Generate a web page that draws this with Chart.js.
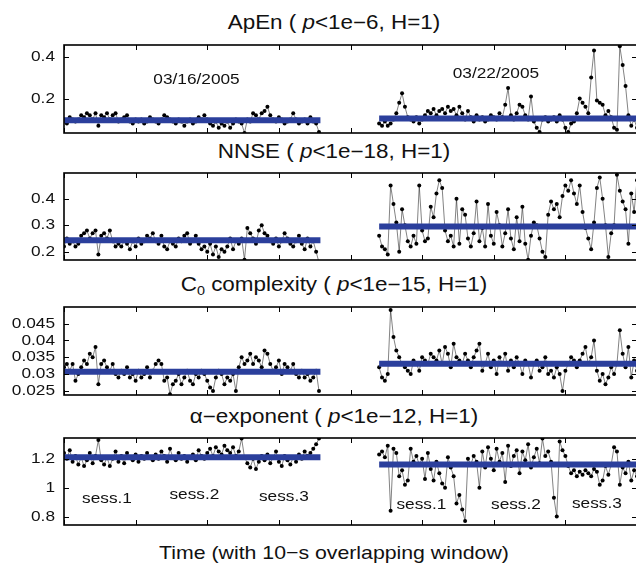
<!DOCTYPE html>
<html>
<head>
<meta charset="utf-8">
<script src="https://cdn.jsdelivr.net/npm/chart.js@4.4.0/dist/chart.umd.min.js"></script>
<style>
  body { margin: 0; background: #fff; }
  #figure { position: relative; width: 636px; height: 571px; overflow: hidden; font-family: "Liberation Sans", Arial, sans-serif; color: #111; }
  #figure canvas { position: absolute; left: 0; }
  .title { position: absolute; left: 334px; font-size: 19.5px; line-height: 1; white-space: nowrap;
           transform: translate(-50%, -50%) scaleX(1.15); }
  .xlabel { left: 334px; font-size: 18.5px; }
  sub { font-size: 12.5px; vertical-align: -4px; line-height: 0; }
</style>
</head>
<body>
<div id="figure">
  <div class="title" style="top:23px">ApEn ( <i>p</i>&lt;1e−6, H=1)</div>
  <div class="title" style="top:152px">NNSE ( <i>p</i>&lt;1e−18, H=1)</div>
  <div class="title" style="top:285px">C<sub>0</sub> complexity ( <i>p</i>&lt;1e−15, H=1)</div>
  <div class="title" style="top:417px">α−exponent ( <i>p</i>&lt;1e−12, H=1)</div>
  <div class="title xlabel" style="top:553px">Time (with 10−s overlapping window)</div>
  <canvas id="apen"></canvas>
  <canvas id="nnse"></canvas>
  <canvas id="c0"></canvas>
  <canvas id="alpha"></canvas>
</div>
<script>
// time axis: two recording days, one sample every 4 units
const sess1Start = 0;
const sess2Start = 440;
const timeStep = 4;
const sessionSpans = [[0, 358], [440, 800]];
const xTicks = [0, 100, 200, 300, 400, 500, 600, 700, 800];

// ApEn
const apenS1 = [
  0.09,0.08,0.11,0.10,0.09,0.10,0.12,0.11,0.13,0.12,
  0.10,0.13,0.07,0.12,0.11,0.13,0.10,0.12,0.13,0.09,
  0.10,0.11,0.12,0.09,0.08,0.10,0.09,0.10,0.08,0.09,
  0.11,0.10,0.09,0.08,0.10,0.12,0.11,0.10,0.09,0.08,
  0.10,0.09,0.07,0.09,0.10,0.08,0.09,0.11,0.10,0.12,
  0.10,0.08,0.07,0.09,0.06,0.08,0.07,0.09,0.06,0.08,
  0.10,0.09,0.08,0.035,0.10,0.09,0.13,0.12,0.10,0.13,
  0.14,0.16,0.12,0.10,0.09,0.11,0.10,0.08,0.09,0.10,
  0.13,0.10,0.08,0.09,0.10,0.08,0.11,0.09,0.08,0.04
];
const apenS2 = [
  0.08,0.07,0.09,0.07,0.08,0.10,0.13,0.18,0.225,0.16,
  0.11,0.10,0.09,0.11,0.08,0.10,0.12,0.14,0.13,0.15,
  0.12,0.14,0.15,0.13,0.16,0.14,0.15,0.12,0.16,0.13,
  0.10,0.14,0.11,0.09,0.12,0.10,0.11,0.09,0.10,0.12,
  0.11,0.10,0.13,0.11,0.17,0.25,0.12,0.10,0.13,0.17,
  0.16,0.12,0.10,0.21,0.09,0.06,0.04,0.10,0.11,0.09,
  0.10,0.11,0.09,0.12,0.10,0.06,0.04,0.08,0.09,0.13,
  0.20,0.18,0.16,0.13,0.30,0.43,0.19,0.18,0.17,0.12,
  0.14,0.11,0.06,0.05,0.45,0.36,0.26,0.12,0.07,0.10,
  0.06
];
const apenMean = [0.096, 0.104];
const apenTicks = [0.2, 0.4];

// NNSE
const nnseS1 = [
  0.22,0.25,0.23,0.24,0.22,0.23,0.26,0.27,0.28,0.25,
  0.27,0.28,0.19,0.26,0.27,0.25,0.28,0.24,0.22,0.23,
  0.22,0.24,0.23,0.21,0.24,0.22,0.25,0.23,0.24,0.26,
  0.25,0.27,0.24,0.23,0.26,0.22,0.21,0.24,0.23,0.22,
  0.25,0.24,0.26,0.27,0.23,0.24,0.26,0.23,0.21,0.22,
  0.20,0.23,0.19,0.22,0.18,0.21,0.20,0.22,0.25,0.21,
  0.24,0.23,0.25,0.17,0.29,0.27,0.25,0.23,0.28,0.30,
  0.27,0.26,0.24,0.23,0.25,0.22,0.24,0.27,0.25,0.23,
  0.22,0.24,0.26,0.23,0.21,0.25,0.22,0.24,0.20,0.16
];
const nnseS2 = [
  0.26,0.22,0.21,0.19,0.45,0.38,0.31,0.20,0.36,0.30,
  0.24,0.22,0.26,0.23,0.45,0.28,0.24,0.25,0.37,0.33,
  0.42,0.47,0.44,0.28,0.24,0.26,0.22,0.40,0.23,0.36,
  0.34,0.25,0.22,0.27,0.39,0.24,0.29,0.22,0.38,0.26,
  0.23,0.35,0.30,0.22,0.27,0.36,0.25,0.21,0.33,0.24,
  0.37,0.23,0.17,0.26,0.31,0.30,0.25,0.20,0.18,0.34,
  0.39,0.36,0.38,0.33,0.41,0.45,0.43,0.47,0.42,0.38,
  0.45,0.35,0.29,0.25,0.21,0.31,0.44,0.48,0.40,0.30,
  0.18,0.27,0.30,0.49,0.43,0.39,0.36,0.23,0.42,0.35,
  0.47
];
const nnseMean = [0.243, 0.295];
const nnseTicks = [0.2, 0.3, 0.4];

// C0 complexity
const c0S1 = [
  0.032,0.033,0.031,0.033,0.028,0.030,0.032,0.034,0.033,0.036,
  0.035,0.038,0.027,0.033,0.034,0.032,0.031,0.033,0.030,0.029,
  0.031,0.030,0.032,0.029,0.030,0.028,0.031,0.029,0.030,0.032,
  0.029,0.031,0.033,0.034,0.033,0.028,0.029,0.024,0.027,0.028,
  0.030,0.027,0.029,0.031,0.028,0.027,0.030,0.029,0.031,0.030,
  0.028,0.026,0.025,0.029,0.031,0.030,0.027,0.029,0.028,0.030,
  0.025,0.032,0.035,0.033,0.034,0.036,0.033,0.035,0.034,0.032,
  0.037,0.036,0.033,0.031,0.032,0.034,0.030,0.033,0.032,0.031,
  0.033,0.030,0.029,0.031,0.029,0.030,0.028,0.029,0.031,0.025
];
const c0S2 = [
  0.032,0.029,0.028,0.030,0.049,0.041,0.037,0.035,0.033,0.032,
  0.031,0.030,0.034,0.033,0.031,0.035,0.034,0.033,0.036,0.035,
  0.034,0.037,0.033,0.038,0.036,0.032,0.039,0.035,0.034,0.033,
  0.036,0.034,0.032,0.035,0.037,0.039,0.031,0.033,0.036,0.032,
  0.034,0.030,0.035,0.033,0.036,0.031,0.034,0.032,0.035,0.033,
  0.030,0.034,0.033,0.029,0.033,0.034,0.031,0.032,0.035,0.030,
  0.031,0.029,0.032,0.030,0.025,0.031,0.033,0.035,0.034,0.032,
  0.034,0.036,0.038,0.033,0.035,0.040,0.031,0.028,0.030,0.027,
  0.029,0.032,0.030,0.033,0.043,0.036,0.032,0.038,0.029,0.034,
  0.031
];
const c0Mean = [0.0307, 0.0331];
const c0Ticks = [0.025, 0.03, 0.035, 0.04, 0.045];

// alpha-exponent (DFA)
const alphaS1 = [
  1.24,1.20,1.26,1.18,1.22,1.16,1.21,1.15,1.19,1.24,
  1.17,1.22,1.33,1.19,1.16,1.21,1.15,1.20,1.25,1.18,
  1.22,1.17,1.24,1.21,1.19,1.23,1.18,1.22,1.20,1.24,
  1.21,1.19,1.23,1.20,1.25,1.22,1.18,1.27,1.21,1.19,
  1.24,1.20,1.22,1.18,1.21,1.23,1.19,1.26,1.22,1.20,
  1.24,1.27,1.22,1.28,1.25,1.23,1.29,1.26,1.24,1.28,
  1.22,1.25,1.34,1.21,1.17,1.14,1.20,1.13,1.18,1.22,
  1.19,1.23,1.17,1.21,1.25,1.18,1.15,1.22,1.19,1.16,
  1.21,1.18,1.23,1.20,1.25,1.22,1.24,1.27,1.30,1.34
];
const alphaS2 = [
  1.23,1.25,1.21,1.29,0.84,1.27,1.24,1.08,1.12,1.02,
  1.05,1.27,1.18,1.22,1.16,1.20,1.06,1.24,1.13,1.05,
  1.18,1.10,1.03,1.00,1.21,1.14,1.08,0.89,0.95,0.85,
  0.77,1.20,1.16,1.22,1.18,1.00,1.25,1.14,1.28,1.20,
  1.12,1.27,1.18,1.24,1.04,1.29,1.15,1.22,1.26,1.10,
  1.25,1.19,1.30,1.14,1.21,1.27,1.17,1.34,1.22,1.25,
  1.18,0.93,0.80,1.32,1.26,1.22,1.15,1.10,1.12,1.08,
  1.11,1.09,1.12,1.10,1.08,1.13,1.11,1.02,1.05,1.15,
  1.09,1.16,1.28,1.25,1.02,1.14,1.10,1.18,1.05,1.12,
  1.08
];
const alphaMean = [1.21, 1.16];
const alphaTicks = [0.8, 1, 1.2];

// text inside the panels (x in time units, y in panel units)
const dateNotes = [
  { text: '03/16/2005', x: 185, y: 0.288 },
  { text: '03/22/2005', x: 603, y: 0.317 }
];
const sessNotes = [
  { text: 'sess.1', x: 60, y: 0.925 },
  { text: 'sess.2', x: 182, y: 0.953 },
  { text: 'sess.3', x: 307, y: 0.94 },
  { text: 'sess.1', x: 499, y: 0.882 },
  { text: 'sess.2', x: 631, y: 0.882 },
  { text: 'sess.3', x: 744, y: 0.89 }
];

const meanBlue = '#2b3f9c';
const textFont = '15px "Liberation Sans", Arial, sans-serif';
const stretch = 1.15; // the original figure is a bit wider than tall

// turn a session's values into {x, y} points on the time axis
function toPoints(values, start) {
  return values.map((v, i) => ({ x: start + i * timeStep, y: v }));
}

function meanLine(mean, span) {
  return {
    data: [{ x: span[0], y: mean }, { x: span[1], y: mean }],
    borderColor: meanBlue,
    borderWidth: 6,
    pointRadius: 0,
    borderCapStyle: 'butt'
  };
}

function seriesSet(values, start) {
  return {
    data: toPoints(values, start),
    borderColor: 'rgba(0,0,0,0.7)',
    borderWidth: 0.7,
    pointRadius: 2,
    pointBackgroundColor: '#000',
    pointBorderWidth: 0,
    tension: 0
  };
}

function stretchedText(ctx, text, px, py) {
  ctx.save();
  ctx.translate(px, py);
  ctx.scale(stretch, 1);
  ctx.fillText(text, 0, 0);
  ctx.restore();
}

// box round the axes with inward ticks and tick labels, like the matlab figure
const framePlugin = {
  id: 'frame',
  afterDraw(chart, args, opts) {
    const { ctx, chartArea: a } = chart;
    const x = chart.scales.x, y = chart.scales.y;
    ctx.save();
    ctx.strokeStyle = '#000';
    ctx.lineWidth = 1;
    ctx.beginPath();
    xTicks.forEach(v => {
      const px = Math.round(x.getPixelForValue(v)) + 0.5;
      ctx.moveTo(px, a.bottom); ctx.lineTo(px, a.bottom - 5);
      ctx.moveTo(px, a.top); ctx.lineTo(px, a.top + 5);
    });
    opts.ticks.forEach(v => {
      const py = Math.round(y.getPixelForValue(v)) + 0.5;
      ctx.moveTo(a.left, py); ctx.lineTo(a.left + 5, py);
      ctx.moveTo(a.right, py); ctx.lineTo(a.right - 5, py);
    });
    ctx.stroke();
    ctx.lineWidth = 1.6;
    ctx.strokeRect(a.left, a.top, a.right - a.left, a.bottom - a.top);

    ctx.fillStyle = '#111';
    ctx.font = textFont;
    ctx.textBaseline = 'middle';
    ctx.textAlign = 'right';
    opts.ticks.forEach(v => {
      stretchedText(ctx, String(v), a.left - 9, y.getPixelForValue(v));
    });
    ctx.textAlign = 'center';
    (opts.notes || []).forEach(n => {
      stretchedText(ctx, n.text, x.getPixelForValue(n.x), y.getPixelForValue(n.y));
    });
    ctx.restore();
  }
};

function makePanel(id, top, bottom, yMin, yMax, ticks, s1, s2, means, notes) {
  const canvas = document.getElementById(id);
  canvas.width = 641;
  canvas.height = bottom - top + 16;
  canvas.style.top = (top - 8) + 'px';
  return new Chart(canvas.getContext('2d'), {
    type: 'line',
    data: {
      datasets: [
        meanLine(means[0], sessionSpans[0]),
        meanLine(means[1], sessionSpans[1]),
        seriesSet(s1, sess1Start),
        seriesSet(s2, sess2Start)
      ]
    },
    options: {
      responsive: false,
      animation: false,
      devicePixelRatio: 1,
      layout: { padding: { left: 64, right: 3, top: 8, bottom: 8 } },
      plugins: {
        legend: { display: false },
        tooltip: { enabled: false },
        frame: { notes: notes, ticks: ticks }
      },
      scales: {
        x: { type: 'linear', min: 0, max: 800, display: false },
        y: { min: yMin, max: yMax, display: false }
      }
    },
    plugins: [framePlugin]
  });
}

makePanel('apen', 45, 133, 0.035, 0.456, apenTicks, apenS1, apenS2, apenMean, dateNotes);
makePanel('nnse', 173, 260, 0.169, 0.497, nnseTicks, nnseS1, nnseS2, nnseMean, []);
makePanel('c0', 307, 395, 0.0238, 0.0499, c0Ticks, c0S1, c0S2, c0Mean, []);
makePanel('alpha', 438, 525, 0.742, 1.344, alphaTicks, alphaS1, alphaS2, alphaMean, sessNotes);
</script>
</body>
</html>
